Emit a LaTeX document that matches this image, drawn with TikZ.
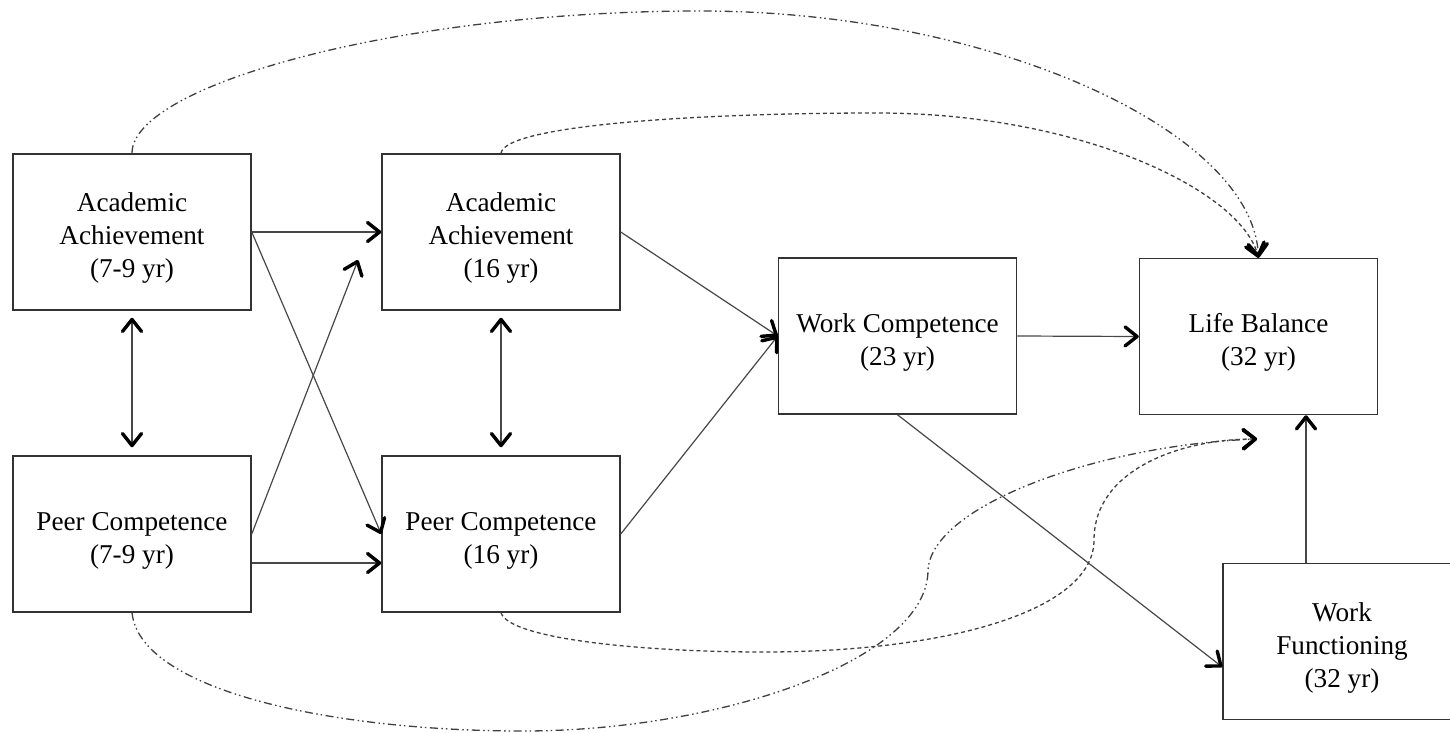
\documentclass[tikz,border=0pt]{standalone}
\usepackage{fontspec}
\setmainfont{Liberation Serif}
\usetikzlibrary{arrows.meta}
\newcommand\boxfont{\fontsize{27.2}{33}\selectfont}
\newcommand\topstrut{\rule{0pt}{31pt}}
\begin{document}
\begin{tikzpicture}[x=1pt,y=-1pt,
  box/.style={draw=black!80, line width=1.5pt, minimum width=238pt, minimum height=156pt,
              inner sep=0pt, align=center, font=\boxfont, fill=white},
  conn/.style={draw=black!72, line width=1.2pt},
  curv/.style={draw=black!75, line width=1.3pt},
  ddd/.style={dash pattern=on 8pt off 3.5pt on 1.5pt off 3pt on 1.5pt off 3.5pt},
  dsh/.style={dash pattern=on 4pt off 3pt},
  tip/.style={-{Straight Barb[length=12pt,width=19pt,line width=3.4pt,round,color=black]}},
  bitip/.style={{Straight Barb[length=12pt,width=19pt,line width=3.4pt,round,color=black]}-{Straight Barb[length=12pt,width=19pt,line width=3.4pt,round,color=black]}}
]
\useasboundingbox (0,0) rectangle (1450,733);

\node[box] (A1) at (132,232) {\topstrut Academic\\Achievement\\(7-9 yr)};
\node[box] (P1) at (132,534) {\topstrut Peer Competence\\(7-9 yr)};
\node[box] (A2) at (501,232) {\topstrut Academic\\Achievement\\(16 yr)};
\node[box] (P2) at (501,534) {\topstrut Peer Competence\\(16 yr)};
\node[box] (WC) at (897.5,336) {\topstrut Work Competence\\(23 yr)};
\node[box] (LB) at (1258.5,336.5) {\topstrut Life Balance\\(32 yr)};
\node[box] (WF) at (1342,641.5) {\topstrut Work\\Functioning\\(32 yr)};

\coordinate (pa) at (358,260);
\coordinate (lt) at (1257,439);

% straight connectors
\draw[conn,tip] (A1.east) -- (A2.west);
\draw[conn,tip] (A1.east) -- (P2.west);
\draw[conn,tip] (P1.east) -- (pa);
\draw[conn,tip] ([yshift=-29pt]P1.east) -- ([yshift=-29pt]P2.west);
\draw[conn,bitip] ([yshift=-7pt]A1.south) -- ([yshift=8pt]P1.north);
\draw[conn,bitip] ([yshift=-7pt]A2.south) -- ([yshift=8pt]P2.north);
\draw[conn,tip] (A2.east) -- (WC.west);
\draw[conn,tip] (P2.east) -- (WC.west);
\draw[conn,tip] (WC.east) -- (LB.west);
\draw[conn,tip] (WC.south) -- ([yshift=-25.5pt]WF.west);
\draw[conn,tip] ([xshift=-36pt]WF.north) -- ([xshift=47.5pt]LB.south);

% curved connectors
\draw[curv,ddd,tip] (A1.north) .. controls (132,85) and (400,11) .. (700,11)
   .. controls (990,11) and (1252,130) .. (LB.north);
\draw[curv,dsh,tip] (A2.north) .. controls (505,125) and (700,113) .. (877,113)
   .. controls (1080,113) and (1240,190) .. (LB.north);
\draw[curv,dsh,tip] (P2.south) .. controls (510,640) and (650,652) .. (763,652)
   .. controls (950,652) and (1094,610) .. (1094,540)
   .. controls (1094,470) and (1180,439) .. (lt);
\draw[curv,ddd,tip] (P1.south) .. controls (140,690) and (330,731) .. (523,731)
   .. controls (720,731) and (928,660) .. (928,570)
   .. controls (932,505) and (1100,445) .. (lt);
\end{tikzpicture}
\end{document}
